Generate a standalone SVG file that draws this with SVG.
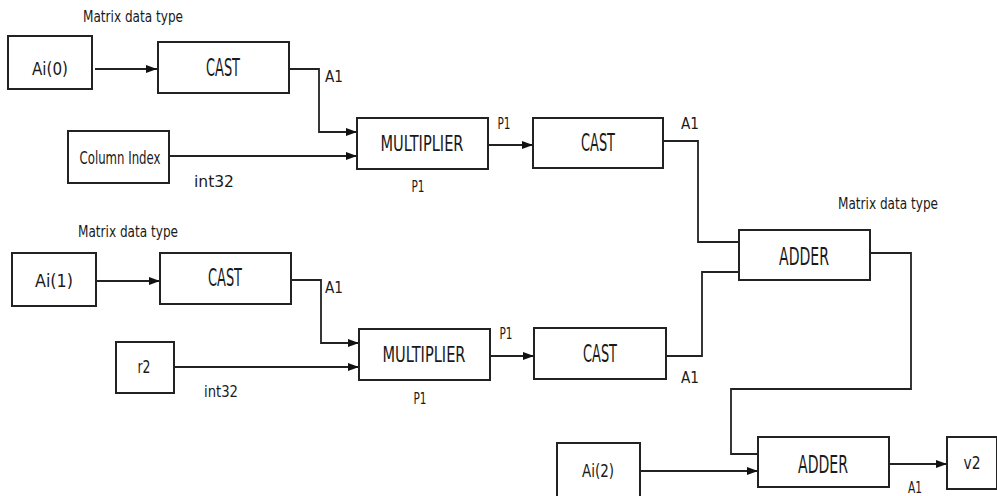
<svg xmlns="http://www.w3.org/2000/svg" width="997" height="496" viewBox="0 0 997 496">
<style>
.box{fill:#fff;stroke:#222;stroke-width:2}
.ln{fill:none;stroke:#222;stroke-width:1.8}
text{font-family:"Liberation Sans Narrow","DejaVu Sans Condensed","Liberation Sans",sans-serif;font-stretch:condensed;fill:#1a1a1a;text-anchor:middle}
.big{font-size:25px}
.mul{font-size:22px}
.med{font-size:18px}
.sm{font-size:16px}
.mdt{font-size:15px}
</style>
<defs>
<marker id="ah" markerWidth="11" markerHeight="8" refX="11" refY="4" orient="auto" markerUnits="userSpaceOnUse">
<path d="M0,0 L11,4 L0,8 Z" fill="#111"/>
</marker>
</defs>
<rect width="997" height="496" fill="#fff"/>
<g id="connectors">
<path class="ln" d="M95,69 H157" marker-end="url(#ah)"/>
<path class="ln" d="M289,69 H319 V132 H357" marker-end="url(#ah)"/>
<path class="ln" d="M169,156 H357" marker-end="url(#ah)"/>
<path class="ln" d="M488,145 H533" marker-end="url(#ah)"/>
<path class="ln" d="M663,141 H698 V242 H739"/>
<path class="ln" d="M97,281 H160" marker-end="url(#ah)"/>
<path class="ln" d="M291,280 H321 V343 H359" marker-end="url(#ah)"/>
<path class="ln" d="M174,367 H359" marker-end="url(#ah)"/>
<path class="ln" d="M490,356 H534" marker-end="url(#ah)"/>
<path class="ln" d="M666,356 H702 V272 H739"/>
<path class="ln" d="M870,253 H911 V389 H731 V454 H758"/>
<path class="ln" d="M641,471 H758" marker-end="url(#ah)"/>
<path class="ln" d="M889,464 H947" marker-end="url(#ah)"/>
</g>
<g id="labels">
<text class="mdt" x="133" y="22" textLength="100" lengthAdjust="spacingAndGlyphs">Matrix data type</text>
<text class="sm" x="334" y="82" textLength="18" lengthAdjust="spacingAndGlyphs">A1</text>
<text class="sm" x="214" y="187" textLength="40" lengthAdjust="spacingAndGlyphs">int32</text>
<text class="sm" x="504" y="129" textLength="13" lengthAdjust="spacingAndGlyphs">P1</text>
<text class="sm" x="418" y="192" textLength="13" lengthAdjust="spacingAndGlyphs">P1</text>
<text class="sm" x="690" y="129" textLength="18" lengthAdjust="spacingAndGlyphs">A1</text>
<text class="mdt" x="888" y="209" textLength="100" lengthAdjust="spacingAndGlyphs">Matrix data type</text>
<text class="mdt" x="128" y="237" textLength="100" lengthAdjust="spacingAndGlyphs">Matrix data type</text>
<text class="sm" x="334" y="293" textLength="18" lengthAdjust="spacingAndGlyphs">A1</text>
<text class="sm" x="221" y="397" textLength="34" lengthAdjust="spacingAndGlyphs">int32</text>
<text class="sm" x="506" y="339" textLength="13" lengthAdjust="spacingAndGlyphs">P1</text>
<text class="sm" x="420" y="404" textLength="13" lengthAdjust="spacingAndGlyphs">P1</text>
<text class="sm" x="690" y="383" textLength="18" lengthAdjust="spacingAndGlyphs">A1</text>
<text class="sm" x="915" y="493" textLength="14" lengthAdjust="spacingAndGlyphs">A1</text>
</g>
<g id="ai0"><rect class="box" x="8" y="36" width="84" height="53"/><text class="med" x="50" y="75" textLength="36" lengthAdjust="spacingAndGlyphs">Ai(0)</text></g>
<g id="cast1"><rect class="box" x="158" y="42" width="131" height="51"/><text class="big" x="223" y="76" textLength="34" lengthAdjust="spacingAndGlyphs">CAST</text></g>
<g id="colindex"><rect class="box" x="68" y="131" width="101" height="52"/><text class="med" x="120" y="164" textLength="81" lengthAdjust="spacingAndGlyphs">Column Index</text></g>
<g id="mult1"><rect class="box" x="357" y="118" width="131" height="51"/><text class="mul" x="422" y="151" textLength="83" lengthAdjust="spacingAndGlyphs">MULTIPLIER</text></g>
<g id="cast2"><rect class="box" x="533" y="118" width="130" height="50"/><text class="big" x="598" y="151" textLength="34" lengthAdjust="spacingAndGlyphs">CAST</text></g>
<g id="adder1"><rect class="box" x="739" y="230" width="131" height="50"/><text class="big" x="804" y="265" textLength="50" lengthAdjust="spacingAndGlyphs">ADDER</text></g>
<g id="ai1"><rect class="box" x="12" y="253" width="84" height="53"/><text class="med" x="54" y="287" textLength="38" lengthAdjust="spacingAndGlyphs">Ai(1)</text></g>
<g id="cast3"><rect class="box" x="160" y="253" width="131" height="51"/><text class="big" x="225" y="286" textLength="34" lengthAdjust="spacingAndGlyphs">CAST</text></g>
<g id="r2"><rect class="box" x="116" y="342" width="58" height="51"/><text class="med" x="144" y="373" textLength="13" lengthAdjust="spacingAndGlyphs">r2</text></g>
<g id="mult2"><rect class="box" x="359" y="329" width="131" height="51"/><text class="mul" x="424" y="362" textLength="83" lengthAdjust="spacingAndGlyphs">MULTIPLIER</text></g>
<g id="cast4"><rect class="box" x="534" y="328" width="132" height="51"/><text class="big" x="600" y="362" textLength="34" lengthAdjust="spacingAndGlyphs">CAST</text></g>
<g id="ai2"><rect class="box" x="557" y="443" width="83" height="60"/><text class="med" x="598" y="477" textLength="32" lengthAdjust="spacingAndGlyphs">Ai(2)</text></g>
<g id="adder2"><rect class="box" x="758" y="437" width="131" height="50"/><text class="big" x="823" y="473" textLength="50" lengthAdjust="spacingAndGlyphs">ADDER</text></g>
<g id="v2"><rect class="box" x="947" y="437" width="50" height="52"/><text class="med" x="972" y="469" textLength="17" lengthAdjust="spacingAndGlyphs">v2</text></g>
</svg>
